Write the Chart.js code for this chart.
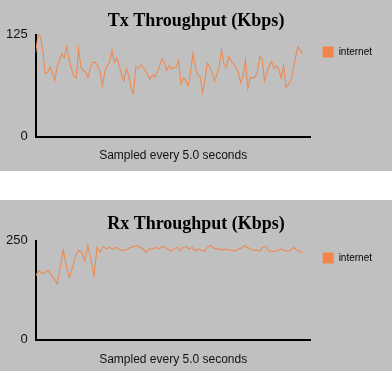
<!DOCTYPE html>
<html>
<head>
<meta charset="utf-8">
<script src="https://cdn.jsdelivr.net/npm/chart.js@4"></script>
<style>
  body { margin: 0; background: #ffffff; }
  .panel { width: 392px; height: 171px; background: #c0c0c0; }
  #rxPanel { margin-top: 29px; }
  canvas { display: block; }
</style>
</head>
<body>
<div class="panel"><canvas id="txChart" width="392" height="171"></canvas></div>
<div class="panel" id="rxPanel"><canvas id="rxChart" width="392" height="171"></canvas></div>
<script>
// samples, one every 5 s
const seriesName = 'internet';
const sampleNote = 'Sampled every 5.0 seconds';

const txMax = 125;
const txValues = [103, 126, 122, 105, 77, 79, 85, 79, 69, 85, 94, 101, 97, 110, 95, 83, 74, 72, 108, 85,
  81, 79, 73, 85, 91, 91, 87, 79, 62, 79, 87, 91, 106, 91, 97, 87, 76, 68, 83, 76,
  60, 52, 86, 83, 88, 85, 81, 76, 70, 76, 73, 79, 87, 95, 91, 81, 87, 83, 85, 85,
  93, 64, 72, 68, 62, 79, 102, 85, 76, 73, 54, 69, 90, 85, 79, 68, 76, 85, 106, 89,
  85, 98, 93, 89, 85, 79, 66, 74, 94, 59, 72, 72, 73, 79, 98, 95, 68, 79, 87, 92,
  83, 87, 82, 72, 87, 60, 64, 68, 81, 97, 110, 106, 101];

const rxMax = 250;
const rxValues = [161, 174, 167, 169, 175, 165, 153, 140, 182, 226, 186, 157, 182, 212, 225, 220, 199, 237, 203, 161,
  233, 220, 235, 229, 233, 229, 233, 229, 225, 226, 229, 233, 235, 237, 233, 229, 220, 229, 229, 233,
  229, 233, 235, 229, 223, 229, 233, 225, 233, 235, 229, 233, 225, 229, 225, 223, 233, 237, 231, 229,
  229, 226, 229, 225, 226, 223, 229, 231, 237, 233, 229, 225, 226, 223, 233, 235, 223, 223, 223, 225,
  229, 225, 223, 225, 233, 226, 223, 220];

const lineColor = '#ec8a52';
const swatchColor = '#f4854a';
const sansFont = '"Liberation Sans", Arial, sans-serif';

// title is centred on the whole panel, not on the padded box
const centerTitle = {
  id: 'centerTitle',
  afterLayout(chart) {
    if (chart.titleBlock) {
      chart.titleBlock.left = 0;
      chart.titleBlock.right = chart.width;
    }
  }
};

function makeChart(id, title, values, yMax, pad) {
  const points = values.map((v, i) => ({ x: i, y: v }));
  return new Chart(document.getElementById(id).getContext('2d'), {
    type: 'line',
    data: {
      datasets: [{
        label: seriesName,
        data: points,
        borderColor: lineColor,
        backgroundColor: swatchColor,
        borderWidth: 1.1,
        pointRadius: 0,
        tension: 0,
        fill: false
      }]
    },
    options: {
      responsive: false,
      animation: false,
      devicePixelRatio: 1,
      layout: { padding: { left: -2, right: 10, top: 0, bottom: 0 } },
      plugins: {
        legend: {
          position: 'right',
          align: 'start',
          fullSize: false,
          labels: {
            boxWidth: 11,
            boxHeight: 11,
            padding: 12,
            color: '#000',
            font: { family: sansFont, size: 10 },
            generateLabels: (chart) => chart.data.datasets.map((ds, i) => ({
              text: ds.label,
              fillStyle: ds.backgroundColor,
              strokeStyle: ds.backgroundColor,
              lineWidth: 0,
              datasetIndex: i
            }))
          }
        },
        tooltip: { enabled: false },
        title: {
          display: true,
          text: title,
          color: '#000',
          font: { family: '"Liberation Serif", "Times New Roman", serif', size: 18, weight: 'bold' },
          padding: { top: pad.titleTop, bottom: pad.titleBottom }
        }
      },
      scales: {
        x: {
          type: 'linear',
          min: 0,
          max: (values.length - 1) * 1.03,
          grid: { display: false, drawTicks: false },
          border: { display: true, color: '#000', width: 2 },
          ticks: { display: false },
          title: {
            display: true,
            text: sampleNote,
            color: '#111',
            font: { family: sansFont, size: 12 },
            padding: { top: pad.noteTop, bottom: pad.noteBottom }
          }
        },
        y: {
          min: 0,
          max: yMax,
          grid: { display: false, drawTicks: false },
          border: { display: true, color: '#000', width: 2 },
          afterBuildTicks: (scale) => { scale.ticks = [{ value: 0 }, { value: yMax }]; },
          ticks: {
            padding: 8,
            color: '#111',
            font: { family: sansFont, size: 13 }
          }
        }
      }
    },
    plugins: [centerTitle]
  });
}

makeChart('txChart', 'Tx Throughput (Kbps)', txValues, txMax,
  { titleTop: 11, titleBottom: 2, noteTop: 12, noteBottom: 8 });
makeChart('rxChart', 'Rx Throughput (Kbps)', rxValues, rxMax,
  { titleTop: 14, titleBottom: 5, noteTop: 13, noteBottom: 4 });
</script>
</body>
</html>
